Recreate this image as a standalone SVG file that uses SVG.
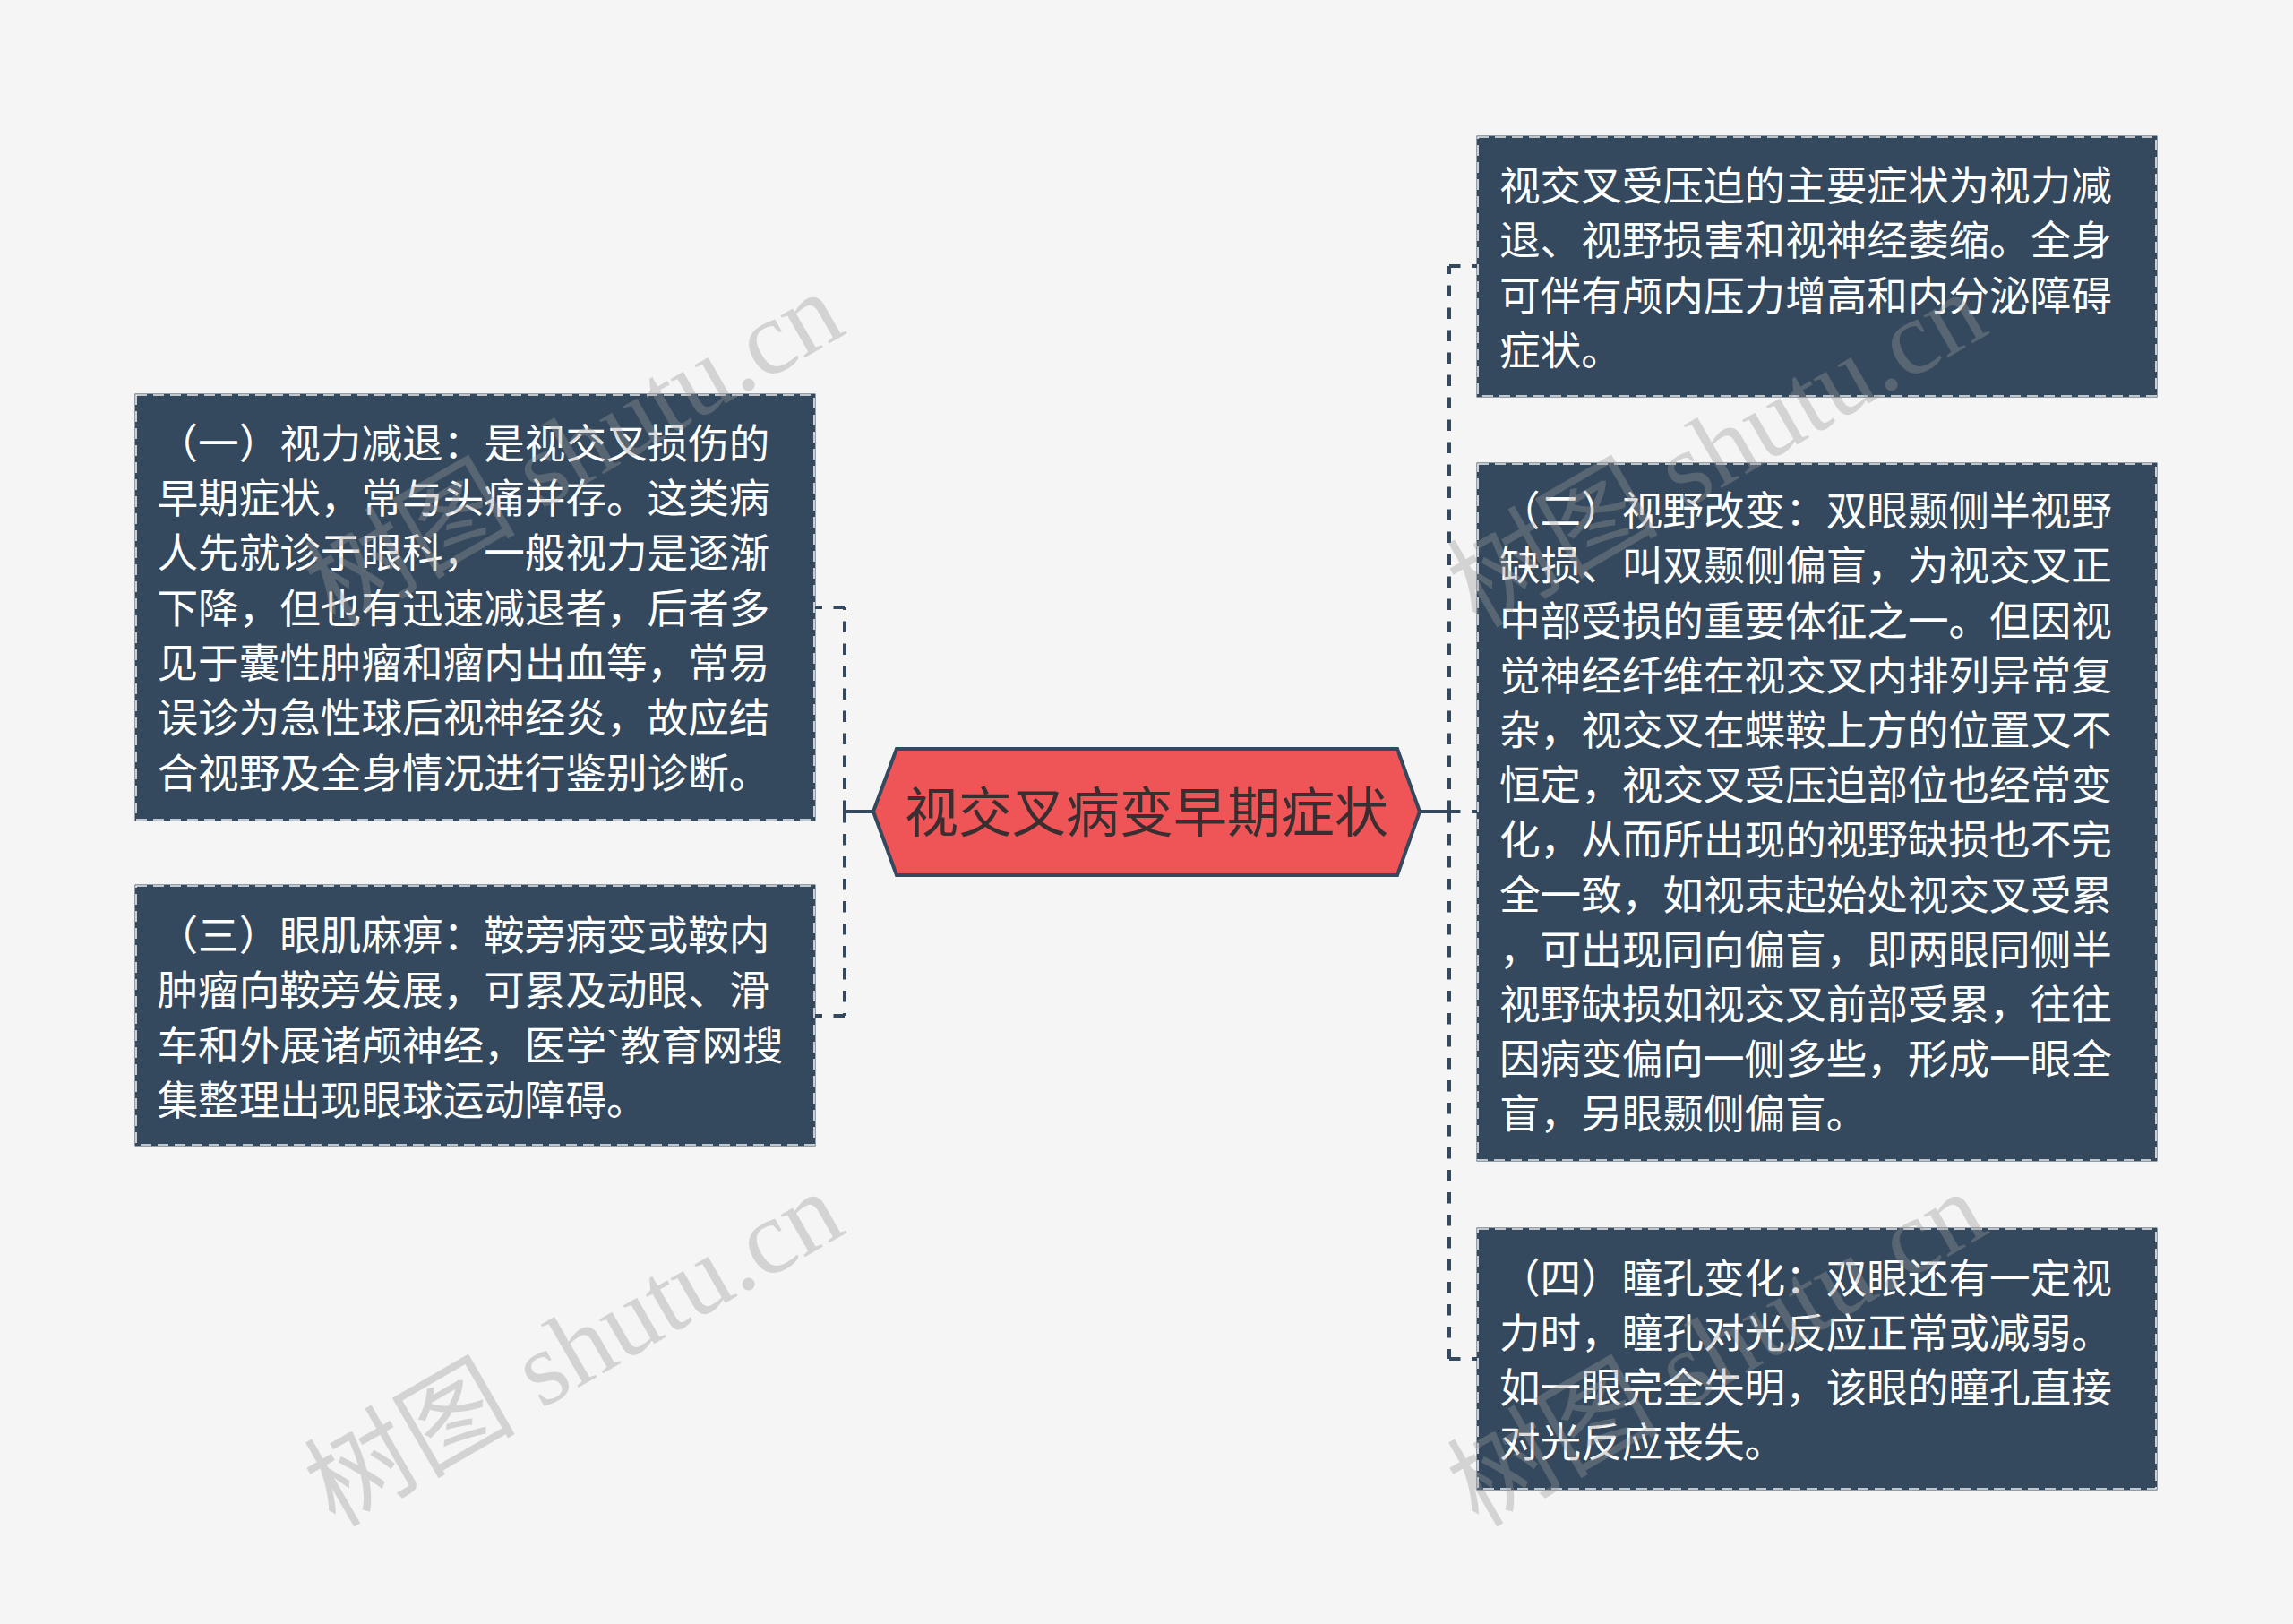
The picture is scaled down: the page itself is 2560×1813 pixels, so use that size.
<svg xmlns="http://www.w3.org/2000/svg" width="2560" height="1813" viewBox="0 0 2560 1813">
<style>
.bg{fill:#F5F5F5}
.box{fill:#34495E;stroke:#34495E;stroke-width:3}
.boxdash{fill:none;stroke:#EEF1F4;stroke-width:1.6;stroke-dasharray:12 7}
.t{font-family:"Noto Sans CJK SC","Noto Sans",sans-serif;font-size:45.6px;fill:#FFFFFF}
.lat{font-family:"Liberation Sans",sans-serif}
.ct{font-family:"Noto Sans CJK SC","Noto Sans",sans-serif;font-size:60px;fill:#3B2E30}
.solid{fill:none;stroke:#34495E;stroke-width:4}
.dash{fill:none;stroke:#34495E;stroke-width:4;stroke-dasharray:12.5 12.5}
.wm{font-family:"Liberation Serif","Noto Sans CJK SC",serif;font-size:118px;fill:#989898;fill-opacity:0.36}
</style>
<rect class="bg" x="0" y="0" width="2560" height="1813"/>
<g id="connectors">
<path class="solid" d="M975 906 H943"/>
<path class="dash" d="M943 906 V678"/>
<path class="dash" d="M943 678 H909"/>
<path class="dash" d="M943 906 V1134"/>
<path class="dash" d="M943 1134 H909"/>
<path class="solid" d="M1585 906 H1618"/>
<path class="dash" d="M1618 906 V297"/>
<path class="dash" d="M1618 297 H1650"/>
<path class="dash" d="M1618 906 H1650"/>
<path class="dash" d="M1618 906 V1517"/>
<path class="dash" d="M1618 1517 H1650"/>
</g>
<g id="center">
<polygon points="975,906 1001,836 1560,836 1585,906 1560,977 1001,977" fill="#EF5557" stroke="#34495E" stroke-width="4" stroke-linejoin="miter"/>
<text class="ct" x="1280" y="929" text-anchor="middle">视交叉病变早期症状</text>
</g>
<g id="node-left-1">
<rect class="box" x="152" y="441" width="757" height="474"/>
<rect class="boxdash" x="152" y="441" width="757" height="474"/>
<text class="t" x="175.5" y="512">（一）视力减退：是视交叉损伤的</text>
<text class="t" x="175.5" y="573">早期症状，常与头痛并存。这类病</text>
<text class="t" x="175.5" y="634">人先就诊于眼科，一般视力是逐渐</text>
<text class="t" x="175.5" y="696">下降，但也有迅速减退者，后者多</text>
<text class="t" x="175.5" y="757">见于囊性肿瘤和瘤内出血等，常易</text>
<text class="t" x="175.5" y="818">误诊为急性球后视神经炎，故应结</text>
<text class="t" x="175.5" y="880">合视野及全身情况进行鉴别诊断。</text>
</g>
<g id="node-left-2">
<rect class="box" x="152" y="989" width="757" height="289"/>
<rect class="boxdash" x="152" y="989" width="757" height="289"/>
<text class="t" x="175.5" y="1061">（三）眼肌麻痹：鞍旁病变或鞍内</text>
<text class="t" x="175.5" y="1122">肿瘤向鞍旁发展，可累及动眼、滑</text>
<text class="t" x="175.5" y="1184">车和外展诸颅神经，医学<tspan class="lat">`</tspan>教育网搜</text>
<text class="t" x="175.5" y="1245">集整理出现眼球运动障碍。</text>
</g>
<g id="node-right-1">
<rect class="box" x="1650" y="153" width="757" height="289"/>
<rect class="boxdash" x="1650" y="153" width="757" height="289"/>
<text class="t" x="1674" y="224">视交叉受压迫的主要症状为视力减</text>
<text class="t" x="1674" y="285">退、视野损害和视神经萎缩。全身</text>
<text class="t" x="1674" y="347">可伴有颅内压力增高和内分泌障碍</text>
<text class="t" x="1674" y="408">症状。</text>
</g>
<g id="node-right-2">
<rect class="box" x="1650" y="518" width="757" height="777"/>
<rect class="boxdash" x="1650" y="518" width="757" height="777"/>
<text class="t" x="1674" y="587">（二）视野改变：双眼颞侧半视野</text>
<text class="t" x="1674" y="648">缺损、叫双颞侧偏盲，为视交叉正</text>
<text class="t" x="1674" y="710">中部受损的重要体征之一。但因视</text>
<text class="t" x="1674" y="771">觉神经纤维在视交叉内排列异常复</text>
<text class="t" x="1674" y="832">杂，视交叉在蝶鞍上方的位置又不</text>
<text class="t" x="1674" y="893">恒定，视交叉受压迫部位也经常变</text>
<text class="t" x="1674" y="954">化，从而所出现的视野缺损也不完</text>
<text class="t" x="1674" y="1016">全一致，如视束起始处视交叉受累</text>
<text class="t" x="1674" y="1077">，可出现同向偏盲，即两眼同侧半</text>
<text class="t" x="1674" y="1138">视野缺损如视交叉前部受累，往往</text>
<text class="t" x="1674" y="1199">因病变偏向一侧多些，形成一眼全</text>
<text class="t" x="1674" y="1260">盲，另眼颞侧偏盲。</text>
</g>
<g id="node-right-3">
<rect class="box" x="1650" y="1372" width="757" height="290"/>
<rect class="boxdash" x="1650" y="1372" width="757" height="290"/>
<text class="t" x="1674" y="1444">（四）瞳孔变化：双眼还有一定视</text>
<text class="t" x="1674" y="1505">力时，瞳孔对光反应正常或减弱。</text>
<text class="t" x="1674" y="1566">如一眼完全失明，该眼的瞳孔直接</text>
<text class="t" x="1674" y="1627">对光反应丧失。</text>
</g>
<g id="watermarks">
<text class="wm" transform="translate(374 1706) rotate(-30)">树图 shutu.cn</text>
<text class="wm" transform="translate(374 702) rotate(-30)">树图 shutu.cn</text>
<text class="wm" transform="translate(1650 1706) rotate(-30)">树图 shutu.cn</text>
<text class="wm" transform="translate(1650 702) rotate(-30)">树图 shutu.cn</text>
</g>
</svg>
